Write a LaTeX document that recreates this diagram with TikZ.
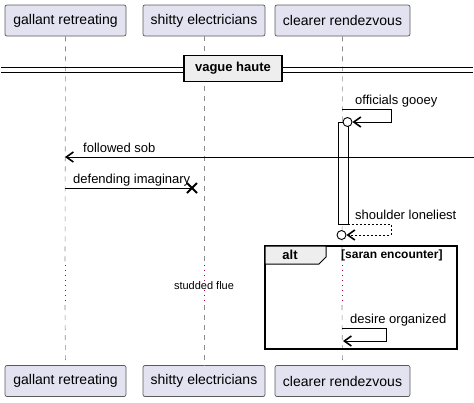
\documentclass[tikz,border=0pt]{standalone}
\usepackage{fontspec}
\setmainfont{Liberation Sans}
\definecolor{partfill}{RGB}{226,226,240}
\definecolor{partdraw}{RGB}{90,90,90}
\definecolor{lifegray}{RGB}{140,140,140}
\definecolor{delaydot}{RGB}{168,0,54}
\definecolor{tabfill}{RGB}{238,238,238}
\usetikzlibrary{
	arrows.meta,
	positioning,
	calc
}
\tikzset{
  % arrow
	cstmsg/.style     ={-{Straight Barb[length=7pt,width=10pt,line width=1.6pt]}, line width=0.9pt},
	cstret/.style     ={cstmsg, dash pattern=on 2pt off 2pt},
  % line
	cstlife/.style    ={lifegray, line width=0.6pt, dash pattern=on 5pt off 5pt},
	cstdelay/.style   ={delaydot, line width=0.8pt, dash pattern=on 1pt off 4pt},
  % node
	cstpart/.style    ={fill=partfill,draw=partdraw,text=black,rounded corners=2pt,line width=0.7pt,
	                    minimum height=31pt,inner xsep=2pt,font=\fontsize{14}{16}\selectfont},
	cstlabel/.style   ={anchor=base west,inner sep=0pt,font=\fontsize{13}{15}\selectfont},
	cstbold/.style    ={inner sep=0pt,font=\fontsize{13}{15}\selectfont\bfseries},
	cstcircle/.style  ={circle,draw=black,fill=white,line width=0.9pt,minimum size=9pt,inner sep=0pt}
}
\begin{document}
\begin{tikzpicture}[x=1pt,y=-1pt]
			\useasboundingbox (0,0) rectangle (474,402);
			% participants
			\node[cstpart,minimum width=121pt] (gT) at (65.5,20.5) {gallant retreating};
			\node[cstpart,minimum width=122pt] (sT) at (204,20.5) {shitty electricians};
			\node[cstpart,minimum width=135pt] (cT) at (342.5,20.5) {clearer rendezvous};
			\node[cstpart,minimum width=121pt] (gB) at (65.5,381) {gallant retreating};
			\node[cstpart,minimum width=122pt] (sB) at (204,381) {shitty electricians};
			\node[cstpart,minimum width=135pt] (cB) at (342.5,381) {clearer rendezvous};
			% lifelines with delay
			\foreach \p/\x in {g/65,s/204,c/342}{
				\coordinate (\p1) at (\x,265);
				\coordinate (\p2) at (\x,305);
				\draw[cstlife] (\p T.south) -- (\p1);
				\draw[cstdelay] (\p1) -- (\p2);
				\draw[cstlife] (\p2) -- (\p B.north);
			}
			\node[inner sep=0pt,font=\fontsize{11}{13}\selectfont,fill=white] (flue) at (204,286) {studded flue};
			% divider
			\draw[line width=0.9pt] (1,67) -- (473,67);
			\draw[line width=0.9pt] (1,72) -- (473,72);
			\node[cstbold,draw=black,fill=tabfill,line width=1.8pt,minimum width=98pt,minimum height=26pt] (haute) at (233,68.5) {vague haute};
			% activation
			\draw[fill=white,line width=0.8pt] (338,122) rectangle (348,224);
			% officials gooey
			\coordinate (o1) at (342,109);
			\coordinate (o2) at (391,109);
			\coordinate (o3) at (391,122);
			\node[cstcircle] (oC) at (347.5,122) {};
			\draw[cstmsg] (o1) -- (o2) -- (o3) -- (oC.east);
			\node[cstlabel] (oL) at (355,104.5) {officials gooey};
			% followed sob
			\coordinate (edgeR) at (474,157);
			\coordinate (fG) at (65,157);
			\draw[cstmsg] (edgeR) -- (fG);
			\node[cstlabel] (fL) at (83,152.5) {followed sob};
			% defending imaginary
			\coordinate (dG) at (65,188);
			\coordinate (dX) at (192,188);
			\draw[line width=0.9pt] (dG) -- (dX);
			\draw[line width=1.8pt] ($(dX)+(-5,-5)$) -- ($(dX)+(5,5)$) ($(dX)+(-5,5)$) -- ($(dX)+(5,-5)$);
			\node[cstlabel] (dL) at (73,183.5) {defending imaginary};
			% shoulder loneliest
			\coordinate (s1) at (348,224);
			\coordinate (s2) at (391,224);
			\coordinate (s3) at (391,235);
			\node[cstcircle] (sC) at (341.5,235) {};
			\draw[cstret] (s1) -- (s2) -- (s3) -- (sC.east);
			\node[cstlabel] (sL) at (355,219.5) {shoulder loneliest};
			% alt frame
			\draw[line width=1.5pt] (265,246) rectangle (457,349);
			\draw[line width=1pt,fill=tabfill] (265,246) -- (326,246) -- (326,257) -- (319,264) -- (265,264) -- cycle;
			\node[cstbold] (alt) at (290,255) {alt};
			\node[cstbold,anchor=west,font=\fontsize{12}{14}\selectfont\bfseries] (guard) at (341,255) {[saran encounter]};
			% desire organized
			\coordinate (e1) at (342,328);
			\coordinate (e2) at (386,328);
			\coordinate (e3) at (386,341);
			\coordinate (e4) at (343,341);
			\draw[cstmsg] (e1) -- (e2) -- (e3) -- (e4);
			\node[cstlabel] (eL) at (350,323.5) {desire organized};
		\end{tikzpicture}
\end{document}
